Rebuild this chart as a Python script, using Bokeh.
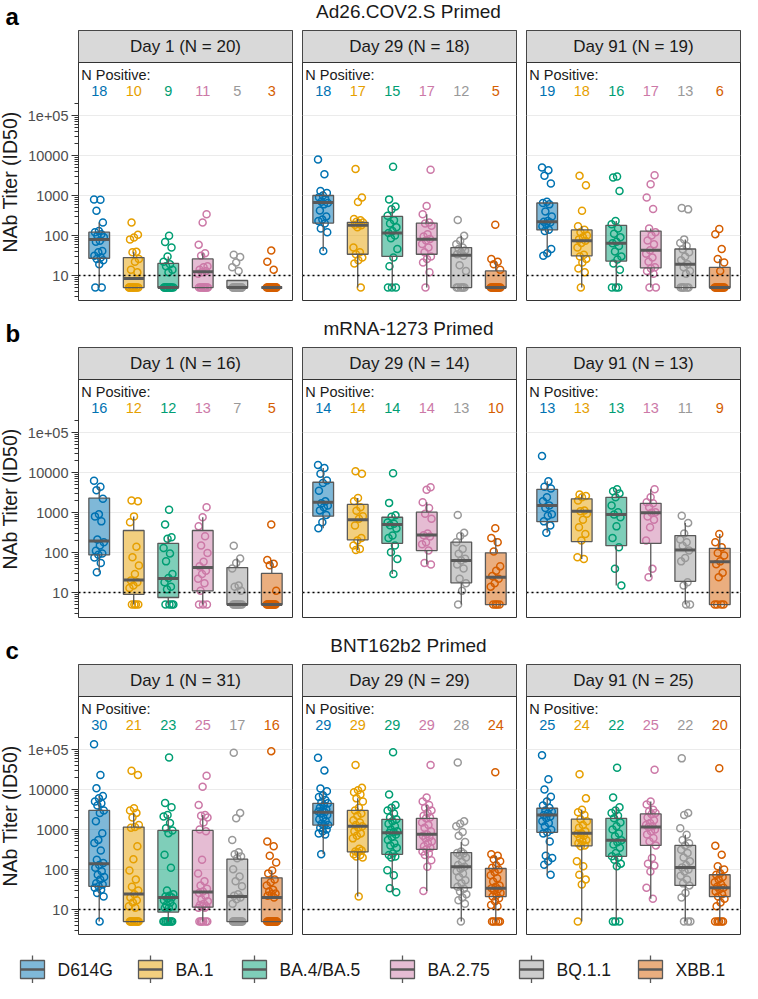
import math
from bokeh.plotting import figure
from bokeh.layouts import column, row
from bokeh.models import Range1d, FixedTicker, Span, CustomJSTickFormatter, ColumnDataSource
from bokeh.core.properties import value
from bokeh.embed import file_html
from bokeh.resources import INLINE

# ---------------- data ----------------
VARIANTS = ["D614G", "BA.1", "BA.4/BA.5", "BA.2.75", "BQ.1.1", "XBB.1"]
DAYS = ["Day 1", "Day 29", "Day 91"]
PRIMINGS = ["Ad26.COV2.S Primed", "mRNA-1273 Primed", "BNT162b2 Primed"]
PANEL_LETTERS = ["a", "b", "c"]
LLOQ = 10
NEG_VALUE = 5
Y_TICKS = [10, 100, 1000, 10000, 100000]
Y_TICK_LABELS = ["10", "100", "1000", "10000", "1e+05"]
Y_LABEL = "NAb Titer (ID50)"

N_AD26 = [20, 18, 19]
N_MRNA = [16, 14, 13]
N_BNT = [31, 29, 25]

NPOS_AD26 = [[18, 10, 9, 11, 5, 3], [18, 17, 15, 17, 12, 5], [19, 18, 16, 17, 13, 6]]
NPOS_MRNA = [[16, 12, 12, 13, 7, 5], [14, 14, 14, 14, 13, 10], [13, 13, 13, 13, 11, 9]]
NPOS_BNT = [[30, 21, 23, 25, 17, 16], [29, 29, 29, 29, 28, 24], [25, 24, 22, 25, 22, 20]]

# positive titers (values above LLOQ) per variant; negatives are plotted at NEG_VALUE
AD26_D1 = [
    [795, 780, 415, 212, 130, 120, 108, 98, 90, 74, 70, 41, 38, 31, 28, 26, 24, 19],
    [212, 104, 89, 80, 39, 38, 26, 22, 14, 12],
    [98, 69, 50, 30, 22, 19, 17, 14, 12],
    [340, 212, 59, 36, 31, 17, 16, 14, 13, 12, 11],
    [33, 29, 21, 16, 13],
    [42, 22, 14],
]
AD26_D29 = [
    [7900, 3400, 1300, 1150, 1000, 900, 800, 700, 650, 600, 420, 300, 250, 230, 200, 150, 120, 41],
    [4600, 890, 690, 260, 240, 220, 210, 200, 185, 180, 160, 50, 38, 34, 28, 24, 20],
    [5200, 800, 530, 450, 310, 240, 200, 160, 130, 115, 100, 85, 46, 28, 17],
    [4400, 550, 340, 210, 200, 175, 108, 95, 82, 75, 61, 50, 38, 30, 26, 21, 12],
    [245, 98, 74, 60, 50, 46, 42, 38, 34, 31, 18, 13],
    [185, 26, 22, 19, 14],
]
AD26_D91 = [
    [5000, 4300, 3100, 2000, 700, 650, 600, 400, 300, 230, 220, 210, 190, 170, 140, 130, 46, 36, 31],
    [3100, 1800, 415, 170, 140, 120, 100, 90, 80, 74, 65, 50, 33, 30, 26, 21, 15, 12],
    [3000, 2800, 1300, 230, 190, 150, 110, 90, 70, 64, 55, 40, 30, 25, 20, 14],
    [3200, 1900, 890, 460, 150, 120, 100, 75, 60, 43, 35, 28, 22, 16, 15, 13, 11],
    [490, 450, 80, 65, 55, 45, 38, 30, 24, 19, 16, 13, 11],
    [145, 108, 46, 26, 21, 13],
]
MRNA_D1 = [
    [6200, 4400, 3600, 2200, 900, 800, 600, 210, 180, 150, 110, 95, 88, 75, 55, 32],
    [2000, 1900, 800, 570, 140, 76, 47, 29, 20, 18, 15, 13],
    [1170, 500, 240, 220, 130, 95, 60, 29, 23, 18, 14, 12],
    [1350, 760, 450, 255, 150, 97, 59, 45, 35, 29, 22, 17, 11],
    [148, 71, 55, 40, 15, 14, 11],
    [500, 65, 52, 48, 11],
]
MRNA_D29 = [
    [15500, 13000, 9300, 6300, 5500, 3500, 1900, 1700, 1500, 1350, 1130, 870, 570, 405],
    [10700, 9300, 2300, 1900, 1350, 1100, 810, 700, 475, 230, 200, 150, 122, 115],
    [9600, 1740, 850, 780, 560, 520, 480, 400, 265, 230, 150, 102, 69, 29],
    [4300, 3700, 1800, 1300, 930, 700, 300, 270, 250, 180, 160, 112, 55, 50],
    [870, 310, 260, 180, 122, 93, 70, 63, 50, 40, 22, 17, 11],
    [405, 230, 180, 106, 45, 35, 26, 22, 17, 14],
]
MRNA_D91 = [
    [25700, 6000, 4400, 4000, 2400, 1900, 1500, 1300, 900, 830, 600, 470, 310],
    [2800, 2600, 2400, 2000, 1120, 1070, 930, 660, 430, 290, 200, 76, 69],
    [3800, 3400, 3000, 2400, 1500, 1020, 890, 760, 450, 230, 135, 39, 15],
    [3800, 2400, 1800, 1700, 1350, 1020, 980, 800, 660, 430, 200, 39, 24],
    [830, 550, 300, 210, 180, 148, 112, 73, 60, 18, 15],
    [290, 180, 135, 97, 84, 60, 51, 31, 24],
]
BNT_D1 = [
    [135000, 23000, 10700, 6900, 6000, 5000, 4500, 4000, 3000, 2600, 1600, 810, 550, 460, 300,
     175, 145, 130, 110, 90, 74, 65, 56, 45, 42, 38, 35, 31, 26, 21],
    [29500, 23000, 3400, 3000, 2600, 2000, 1300, 1150, 1100, 380, 180, 95, 56, 37, 30, 24, 20, 17, 15, 12, 11],
    [63000, 4600, 3600, 2300, 2100, 1450, 1080, 950, 810, 235, 110, 30, 24, 22, 21, 20, 19, 17, 15, 13, 12, 11, 11],
    [22000, 11700, 4100, 2300, 2200, 2000, 1500, 1000, 900, 175, 79, 51, 40, 33, 28, 26, 22, 18, 16, 14,
     13, 12, 12, 11, 11],
    [83000, 2600, 1900, 550, 270, 240, 210, 190, 102, 67, 51, 38, 24, 22, 20, 18, 14],
    [91000, 500, 380, 220, 150, 95, 80, 56, 48, 40, 31, 28, 25, 24, 22, 20],
]
BNT_D29 = [
    [62000, 30000, 10600, 9000, 7200, 6500, 5500, 4800, 4500, 4000, 3500, 3200, 3000, 2800, 2700,
     2500, 2300, 2000, 1800, 1600, 1400, 1300, 1250, 1100, 1000, 900, 800, 750, 240],
    [41000, 11000, 9600, 8500, 7500, 6000, 5000, 3500, 3000, 2500, 2200, 1700, 1500, 1300, 1200,
     1100, 900, 800, 700, 600, 330, 280, 300, 270, 240, 230, 210, 200, 21],
    [85000, 7500, 4100, 3500, 3000, 2500, 2000, 1800, 1600, 1400, 1200, 1000, 900, 850, 830,
     750, 650, 550, 450, 400, 350, 250, 230, 210, 200, 96, 72, 34, 27],
    [41000, 6300, 5000, 4100, 3500, 3000, 2600, 2200, 2000, 1900, 1500, 1300, 1100, 900, 760,
     700, 650, 600, 500, 450, 380, 350, 320, 280, 250, 230, 170, 117, 29],
    [47000, 1600, 1400, 1200, 870, 700, 490, 280, 260, 250, 230, 200, 155, 130, 117, 105, 90, 79,
     65, 54, 45, 37, 33, 28, 24, 20, 17, 14],
    [27000, 240, 220, 180, 160, 128, 110, 100, 85, 72, 60, 50, 40, 37, 34, 32, 30, 26, 23, 21, 19, 16, 13, 12],
]
BNT_D91 = [
    [72000, 18000, 10000, 6600, 5000, 4000, 3500, 3000, 2800, 2500, 2300, 2100, 1900, 1600, 1450,
     1200, 980, 850, 800, 500, 220, 195, 160, 132, 74],
    [24000, 6000, 3100, 2700, 2300, 1800, 1600, 1300, 1100, 900, 810, 780, 700, 600, 550, 500,
     450, 400, 380, 160, 120, 74, 56, 42],
    [35000, 6300, 3600, 3000, 2600, 2200, 1900, 1500, 1200, 1000, 800, 680, 540, 480, 420, 350,
     260, 215, 200, 175, 140, 120],
    [31000, 5000, 4200, 3100, 2800, 2600, 2400, 2000, 1700, 1450, 1300, 1200, 1150, 1000, 900,
     750, 610, 500, 400, 195, 140, 125, 89, 35, 18.5],
    [60000, 2600, 2300, 1080, 740, 550, 450, 400, 310, 260, 200, 160, 130, 113, 100, 89, 70, 56,
     45, 40, 26, 20],
    [34000, 390, 235, 120, 100, 81, 74, 65, 56, 48, 42, 37, 35, 32, 28, 24, 21, 18.5, 15, 12],
]

# box statistics per panel: [Q1 per variant], [median per variant], [Q3 per variant]
AD26_D1_BOX = [[27, 5, 5, 5, 5, 5], [79, 8.4, 5, 12.4, 5, 5], [121, 28, 20, 26, 7.5, 5]]
AD26_D29_BOX = [[205, 34, 30, 34, 5, 5], [670, 180, 115, 81, 32, 5], [1000, 213, 300, 205, 50, 13]]
AD26_D91_BOX = [[138, 31, 23, 15.5, 5, 5], [220, 74, 64, 43, 19, 5], [650, 138, 180, 129, 46, 16]]
MRNA_D1_BOX = [[87, 9, 7.5, 11, 5, 5], [195, 20.5, 22.5, 42, 5, 5], [2300, 355, 170, 355, 42, 30]]
MRNA_D29_BOX = [[810, 208, 170, 112, 17.5, 5], [1800, 655, 500, 275, 63, 24], [5700, 1590, 760, 1020, 182, 98]]
MRNA_D91_BOX = [[590, 188, 148, 170, 19, 5], [1500, 1070, 890, 980, 115, 59], [3800, 2200, 2400, 1700, 265, 127]]
BNT_D1_BOX = [[38, 5, 8.6, 11.4, 5, 5], [140, 24.5, 20, 27.5, 21, 20], [3000, 1150, 950, 950, 182, 62]]
BNT_D29_BOX = [[1290, 275, 240, 320, 35, 21], [2700, 1200, 830, 760, 117, 34], [4500, 3000, 1800, 1900, 265, 106]]
BNT_D91_BOX = [[850, 390, 213, 400, 40, 21], [2300, 810, 540, 1150, 113, 35], [3400, 1820, 1900, 2450, 400, 74]]

# ---------------- style / layout ----------------
FONT_NAME = "Liberation Sans"
FONT = value(FONT_NAME)
COLORS = ["#0072B2", "#E69F00", "#009E73", "#CC79A7", "#999999", "#D55E00"]
BOX_LINE = "#595959"
FRAME_LINE = "#333333"
TEXT_DARK = "#1a1a1a"

PANEL_W = 214
PANEL_H = 239
STRIP_H = 32
LOG_LO, LOG_HI = 0.35, 6.325
PX_PER_DEC = PANEL_H / (LOG_HI - LOG_LO)
LOG_STRIP = LOG_HI + STRIP_H / PX_PER_DEC
X_LO, X_HI = 0.4, 6.6
BOX_HALF = 0.3
JITTER = 0.15
YLAB_W = 24
TOTAL_W = 741
MINOR = [m * 10 ** k for k in range(0, 6) for m in range(2, 10) if 3 <= m * 10 ** k <= 200000]


def whiskers(vals, q1, q3):
    iqr = q3 - q1
    up = [v for v in vals if v <= q3 + 1.5 * iqr]
    lo = [v for v in vals if v >= q1 - 1.5 * iqr]
    hi = max(up) if up else q3
    low = min(lo) if lo else q1
    return max(hi, q3), min(low, q1)


def make_panel(col, day, n_total, npos, pos_lists, box):
    first = col == 0
    p = figure(frame_width=PANEL_W, frame_height=PANEL_H + STRIP_H,
               y_axis_type="log", x_range=Range1d(X_LO, X_HI),
               y_range=Range1d(10 ** LOG_LO, 10 ** LOG_STRIP),
               x_axis_location=None, y_axis_location="left" if first else None,
               toolbar_location=None, output_backend="svg",
               min_border_left=(77 - YLAB_W) if first else 5,
               min_border_right=2 if col == 2 else 5,
               min_border_top=0, min_border_bottom=0,
               outline_line_color=FRAME_LINE, outline_line_width=1,
               background_fill_color="white", border_fill_color="white")
    p.title.visible = False
    p.xgrid.visible = False
    p.ygrid.ticker = FixedTicker(ticks=Y_TICKS)
    p.ygrid.grid_line_color = "#ebebeb"
    p.ygrid.grid_line_width = 1
    p.ygrid.minor_grid_line_color = None

    if first:
        ax = p.yaxis[0]
        ax.ticker = FixedTicker(ticks=Y_TICKS, minor_ticks=MINOR)
        ax.formatter = CustomJSTickFormatter(
            args=dict(tick_vals=Y_TICKS, tick_labels=Y_TICK_LABELS),
            code="for (let i = 0; i < tick_vals.length; i++) { if (Math.abs(tick_vals[i] - tick) < 1e-6 * tick_vals[i]) return tick_labels[i]; } return '';")
        ax.axis_line_color = None
        ax.major_tick_out = 7
        ax.major_tick_in = 0
        ax.minor_tick_out = 4
        ax.minor_tick_in = 0
        ax.major_tick_line_color = FRAME_LINE
        ax.minor_tick_line_color = FRAME_LINE
        ax.major_label_text_font = FONT_NAME
        ax.major_label_text_font_size = "14.5px"
        ax.major_label_text_color = "#4d4d4d"
        ax.major_label_standoff = 3

    # jittered points
    xs, ys, cs = [], [], []
    for k in range(len(VARIANTS)):
        vals = list(pos_lists[k]) + [NEG_VALUE] * (n_total - len(pos_lists[k]))
        for j, v in enumerate(vals):
            off = ((j * 0.6180339887 + k * 0.29) % 1.0 - 0.5) * 2 * JITTER
            xs.append(k + 1 + off)
            ys.append(v)
            cs.append(COLORS[k])
    p.scatter(x="x", y="y", source=ColumnDataSource(dict(x=xs, y=ys, c=cs)),
              marker="circle", size=7, fill_color=None, line_color="c", line_width=1.5)

    # boxes
    q1s, meds, q3s = box
    cx, his, los = [], [], []
    for k in range(len(VARIANTS)):
        vals = list(pos_lists[k]) + [NEG_VALUE] * (n_total - len(pos_lists[k]))
        hi, lo = whiskers(vals, q1s[k], q3s[k])
        cx.append(k + 1)
        his.append(hi)
        los.append(lo)
    p.segment(x0=cx, y0=q3s, x1=cx, y1=his, line_color=BOX_LINE, line_width=1.3)
    p.segment(x0=cx, y0=q1s, x1=cx, y1=los, line_color=BOX_LINE, line_width=1.3)
    p.quad(left=[c - BOX_HALF for c in cx], right=[c + BOX_HALF for c in cx],
           bottom=q1s, top=q3s, fill_color=COLORS, fill_alpha=0.5,
           line_color=BOX_LINE, line_width=1.3)
    p.segment(x0=[c - BOX_HALF for c in cx], x1=[c + BOX_HALF for c in cx],
              y0=meds, y1=meds, line_color=BOX_LINE, line_width=3)

    # LLOQ line
    p.add_layout(Span(location=LLOQ, dimension="width", line_color="black",
                      line_dash="2 3", line_width=1.3))

    # N positive annotation
    p.text(x=[X_LO + 0.08], y=[10 ** (LOG_HI - 12 / PX_PER_DEC)], text=["N Positive:"],
           text_font=FONT, text_font_size="14.5px", text_align="left",
           text_baseline="middle", text_color=TEXT_DARK)
    p.text(x=cx, y=[10 ** (LOG_HI - 28 / PX_PER_DEC)] * len(cx),
           text=[str(v) for v in npos], text_color=COLORS, text_font=FONT,
           text_font_size="14.5px", text_align="center", text_baseline="middle")

    # strip
    p.quad(left=[X_LO], right=[X_HI], bottom=[10 ** LOG_HI], top=[10 ** LOG_STRIP],
           fill_color="#d9d9d9", line_color=FRAME_LINE, line_width=1)
    p.text(x=[(X_LO + X_HI) / 2], y=[10 ** ((LOG_HI + LOG_STRIP) / 2)],
           text=["%s (N = %d)" % (day, n_total)], text_font=FONT,
           text_font_size="17px", text_align="center", text_baseline="middle",
           text_color=TEXT_DARK)
    return p


def blank_fig(w, h, inverted=True):
    p = figure(width=w, height=h, x_range=Range1d(0, w),
               y_range=Range1d(h, 0) if inverted else Range1d(0, h),
               x_axis_location=None, y_axis_location=None, toolbar_location=None,
               output_backend="svg", min_border=0, outline_line_color=None,
               background_fill_color="white", border_fill_color="white")
    p.title.visible = False
    p.grid.visible = False
    return p


def make_ylabel():
    h = PANEL_H + STRIP_H
    p = blank_fig(YLAB_W, h, inverted=False)
    p.text(x=[9], y=[PANEL_H / 2], text=[Y_LABEL], angle=math.pi / 2,
           text_font=FONT, text_font_size="19.5px", text_align="center",
           text_baseline="middle", text_color=TEXT_DARK)
    return p


def make_header(h, title, letter):
    p = blank_fig(TOTAL_W, h)
    center = YLAB_W + (77 - YLAB_W) + PANEL_W + 5 + 5 + PANEL_W / 2
    p.text(x=[center], y=[h - 19], text=[title], text_font=FONT, text_font_size="19px",
           text_align="center", text_baseline="middle", text_color=TEXT_DARK)
    p.text(x=[5], y=[h - 14], text=[letter], text_font=FONT, text_font_size="24px",
           text_font_style="bold", text_align="left", text_baseline="middle",
           text_color="black")
    return p


def make_legend(h):
    p = blank_fig(TOTAL_W, h)
    lx = [20, 138, 242, 390, 519, 638]
    cy = 34
    p.quad(left=lx, right=[x + 24 for x in lx], top=[cy - 9] * 6, bottom=[cy + 9] * 6,
           fill_color=COLORS, fill_alpha=0.5, line_color=BOX_LINE, line_width=1.3)
    p.segment(x0=lx, x1=[x + 24 for x in lx], y0=[cy] * 6, y1=[cy] * 6,
              line_color=BOX_LINE, line_width=2.5)
    p.segment(x0=[x + 12 for x in lx], x1=[x + 12 for x in lx], y0=[cy - 14] * 6,
              y1=[cy - 9] * 6, line_color=BOX_LINE, line_width=1.3)
    p.segment(x0=[x + 12 for x in lx], x1=[x + 12 for x in lx], y0=[cy + 9] * 6,
              y1=[cy + 14] * 6, line_color=BOX_LINE, line_width=1.3)
    p.text(x=[x + 37 for x in lx], y=[cy] * 6, text=VARIANTS, text_font=FONT,
           text_font_size="17.5px", text_align="left", text_baseline="middle",
           text_color=TEXT_DARK)
    return p


ROWS = [
    (N_AD26, NPOS_AD26, [AD26_D1, AD26_D29, AD26_D91], [AD26_D1_BOX, AD26_D29_BOX, AD26_D91_BOX]),
    (N_MRNA, NPOS_MRNA, [MRNA_D1, MRNA_D29, MRNA_D91], [MRNA_D1_BOX, MRNA_D29_BOX, MRNA_D91_BOX]),
    (N_BNT, NPOS_BNT, [BNT_D1, BNT_D29, BNT_D91], [BNT_D1_BOX, BNT_D29_BOX, BNT_D91_BOX]),
]
HEADER_H = [30, 46, 46]

children = []
for r, (ns, nposs, panels, boxes) in enumerate(ROWS):
    children.append(make_header(HEADER_H[r], PRIMINGS[r], PANEL_LETTERS[r]))
    figs = [make_ylabel()]
    for c in range(3):
        figs.append(make_panel(c, DAYS[c], ns[c], nposs[c], panels[c], boxes[c]))
    children.append(row(figs))
children.append(make_legend(48))

layout = column(children)
open("out.html", "w").write(file_html(layout, INLINE))
